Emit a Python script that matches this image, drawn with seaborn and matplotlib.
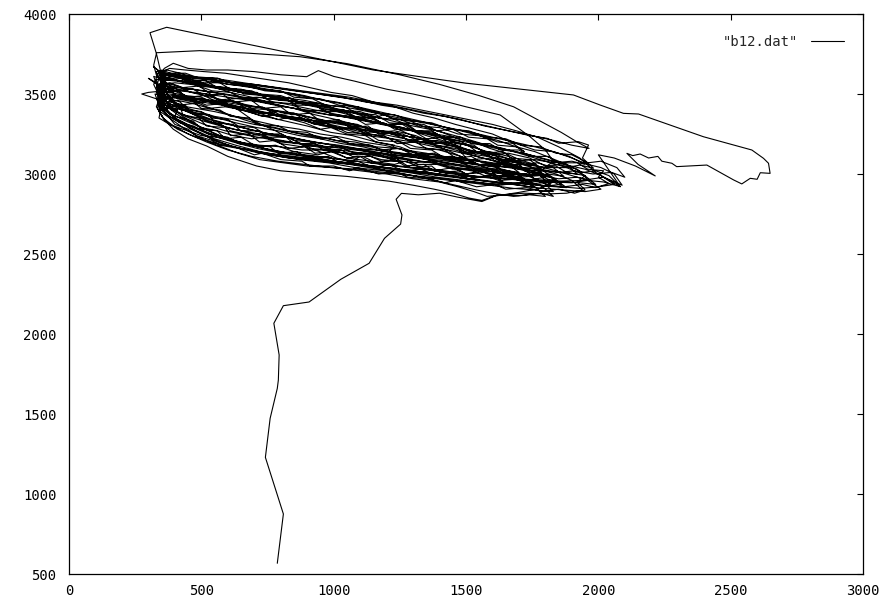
import matplotlib
matplotlib.use("Agg")
import matplotlib.pyplot as plt
import numpy as np
import pandas as pd
import seaborn as sns

# Trajectory from b12.dat, split into its phases.
# Initial climb from the bottom of the plane into the attractor.
tail = [(787, 567), (810, 875), (742, 1229), (760, 1473), (787, 1660), (791, 1712),
        (794, 1869), (774, 2067), (810, 2177), (907, 2200), (1027, 2342), (1134, 2442),
        (1192, 2598), (1253, 2687), (1258, 2744), (1236, 2842), (1256, 2879)]

# First group of cycles.
early_cycles = [
    (1320, 2870), (1400, 2880), (1470, 2855), (1560, 2828), (1610, 2862), (1700, 2885), (1780, 2910), (1830, 2950),
    (1770, 3000), (1700, 3030), (1620, 3070), (1560, 3050), (1480, 3110), (1400, 3150), (1310, 3170), (1220, 3220),
    (1130, 3240), (1040, 3280), (960, 3300), (880, 3340), (790, 3360), (700, 3400), (610, 3430), (530, 3460),
    (450, 3480), (380, 3500), (345, 3490),
    (355, 3430), (400, 3350), (460, 3280), (540, 3220), (620, 3170), (720, 3130), (830, 3100), (950, 3080),
    (1060, 3060), (1170, 3030), (1280, 3010), (1390, 2980), (1490, 2960), (1590, 2940), (1680, 2935), (1760, 2915),
    (1710, 2975), (1640, 3010), (1580, 3000), (1500, 3060), (1420, 3100), (1330, 3120), (1250, 3170), (1160, 3200),
    (1070, 3240), (990, 3260), (900, 3300), (820, 3330), (740, 3360), (650, 3400), (560, 3440), (480, 3470),
    (410, 3500), (355, 3520),
    (360, 3520), (300, 3510), (275, 3500), (330, 3470), (350, 3420), (410, 3400), (400, 3360), (470, 3330),
    (500, 3280), (560, 3270), (590, 3220), (650, 3230), (700, 3180), (760, 3170), (790, 3130), (860, 3140),
    (900, 3100), (980, 3110), (1020, 3070), (1090, 3080), (1150, 3040), (1210, 3060), (1260, 3020), (1330, 3030),
    (1390, 2990), (1450, 3010), (1510, 2970), (1580, 2985), (1640, 2950),
    (1600, 3010), (1630, 3050), (1560, 3070), (1520, 3110), (1460, 3100), (1420, 3150), (1350, 3160), (1310, 3200),
    (1240, 3190), (1190, 3240), (1120, 3250), (1080, 3290), (1010, 3280), (960, 3330), (890, 3340), (850, 3380),
    (780, 3370), (730, 3420), (660, 3420), (620, 3460), (560, 3450), (510, 3490), (450, 3480), (410, 3520),
    (370, 3530),
    (335, 3470), (365, 3400), (415, 3330), (480, 3270), (560, 3200), (650, 3160), (760, 3120), (870, 3090),
    (980, 3070), (1080, 3040), (1190, 3020), (1300, 2990), (1410, 2970), (1520, 2950), (1630, 2930), (1720, 2950),
    (1800, 2925), (1880, 2915),
    (1830, 2975), (1760, 3010), (1690, 3050), (1610, 3080), (1540, 3110), (1460, 3150), (1370, 3190), (1290, 3210),
    (1200, 3260), (1110, 3280), (1020, 3320), (940, 3340), (850, 3380), (770, 3400), (680, 3430), (590, 3460),
    (510, 3490), (440, 3520), (375, 3540),
    (340, 3560), (300, 3598), (350, 3540), (370, 3470), (350, 3430), (420, 3420), (430, 3370), (490, 3350),
    (520, 3300), (590, 3290), (610, 3240), (680, 3250), (720, 3200), (780, 3210), (830, 3160), (890, 3170),
    (930, 3130), (1000, 3140), (1050, 3100), (1110, 3110), (1160, 3070), (1230, 3090), (1270, 3050), (1340, 3060),
    (1380, 3020), (1450, 3040), (1500, 3000), (1570, 3010), (1620, 2980), (1690, 3000), (1730, 2960), (1800, 2980),
    (1770, 3040), (1720, 3030), (1680, 3090), (1610, 3080), (1570, 3140), (1500, 3130), (1460, 3180), (1390, 3170),
    (1350, 3220), (1280, 3210), (1240, 3260), (1170, 3250), (1130, 3300), (1060, 3290), (1020, 3340), (950, 3330),
    (910, 3380), (840, 3370), (800, 3420), (730, 3410), (690, 3460), (620, 3450), (580, 3500), (510, 3490),
    (470, 3530), (400, 3520), (360, 3560),
    (345, 3500), (375, 3430), (430, 3360), (500, 3290), (580, 3230), (670, 3190), (760, 3150), (870, 3120),
    (980, 3100), (1070, 3080), (1100, 3110), (1140, 3070), (1250, 3050), (1350, 3030), (1450, 3000), (1550, 2985),
    (1650, 2975), (1750, 2965), (1840, 2955), (1930, 2945), (1990, 2935),
    (1945, 2995), (1880, 3040), (1800, 3080), (1720, 3120), (1640, 3160), (1560, 3190), (1480, 3230), (1390, 3270),
    (1300, 3300), (1200, 3340), (1110, 3370), (1020, 3400), (920, 3430), (830, 3460), (740, 3490), (650, 3510),
    (560, 3540), (480, 3560), (410, 3580), (350, 3590),
    (380, 3470), (420, 3410), (455, 3385), (520, 3330), (575, 3310), (610, 3270), (690, 3240), (720, 3250),
    (800, 3200), (870, 3190), (905, 3160), (990, 3150), (1060, 3120), (1100, 3130), (1180, 3090), (1250, 3080),
    (1210, 3140), (1230, 3180), (1160, 3200), (1120, 3240), (1050, 3250), (990, 3290), (950, 3280), (890, 3320),
    (820, 3350), (790, 3340), (720, 3380), (650, 3400), (620, 3430), (540, 3450), (500, 3480), (440, 3490),
    (395, 3520), (350, 3510),
    (330, 3420), (360, 3340), (394, 3280), (450, 3220), (520, 3175), (600, 3110), (709, 3050), (800, 3020),
    (885, 3008), (970, 2995), (1050, 2985), (1130, 2970), (1210, 2955), (1300, 2930), (1380, 2905), (1450, 2880),
    (1510, 2850), (1560, 2835), (1620, 2870), (1700, 2865), (1780, 2880), (1830, 2860),
    (1790, 2920), (1730, 2960), (1660, 2990), (1590, 3020), (1510, 3040), (1430, 3070), (1350, 3090), (1270, 3120),
    (1190, 3140), (1110, 3170), (1030, 3190), (950, 3220), (870, 3240), (790, 3270), (710, 3290), (630, 3320),
    (560, 3350), (490, 3380), (430, 3400), (370, 3420),
]

# Second group, including the jagged and the high passes.
middle_cycles = [
    (350, 3400), (380, 3360), (420, 3320), (470, 3300), (530, 3250), (600, 3230), (640, 3190), (720, 3170),
    (780, 3180), (850, 3140), (940, 3120), (990, 3140), (1050, 3100), (1140, 3080), (1230, 3060), (1270, 3080),
    (1330, 3040), (1420, 3020), (1500, 3000), (1560, 3020), (1620, 2990), (1700, 2980), (1780, 2990), (1850, 2970),
    (1920, 2980), (1960, 2965),
    (1920, 3030), (1850, 3060), (1800, 3050), (1740, 3100), (1660, 3130), (1600, 3120), (1530, 3170), (1450, 3200),
    (1380, 3190), (1310, 3240), (1230, 3270), (1160, 3260), (1090, 3310), (1010, 3330), (940, 3320), (870, 3370),
    (790, 3390), (720, 3380), (650, 3420), (580, 3440), (520, 3430), (460, 3470), (400, 3480), (350, 3470),
    (335, 3450), (345, 3390), (380, 3350), (400, 3310), (450, 3280), (480, 3240), (540, 3210), (570, 3180),
    (640, 3160), (700, 3120), (730, 3130), (800, 3090), (880, 3080), (910, 3050), (1000, 3050), (1060, 3020),
    (1090, 3040), (1170, 3000), (1240, 3010), (1280, 2980), (1360, 2970), (1420, 2945), (1460, 2960), (1540, 2920),
    (1610, 2935), (1650, 2905), (1730, 2915), (1790, 2890), (1850, 2905), (1910, 2880), (1950, 2900),
    (1920, 2950), (1950, 2990), (1880, 3010), (1840, 3050), (1780, 3040), (1740, 3090), (1670, 3100), (1640, 3140),
    (1570, 3130), (1530, 3180), (1460, 3190), (1420, 3230), (1350, 3220), (1300, 3270), (1230, 3280), (1190, 3320),
    (1120, 3310), (1070, 3360), (1000, 3370), (960, 3400), (890, 3390), (840, 3440), (770, 3450), (730, 3480),
    (660, 3470), (610, 3510), (540, 3520), (490, 3550), (430, 3540), (380, 3570), (340, 3560),
    (330, 3510), (350, 3450), (390, 3400), (450, 3360), (530, 3320), (620, 3280), (720, 3250), (820, 3230),
    (920, 3200), (1020, 3180), (1120, 3150), (1220, 3120), (1320, 3100), (1420, 3070), (1520, 3050), (1620, 3030),
    (1700, 3010),
    (1650, 3070), (1590, 3110), (1510, 3150), (1430, 3200), (1350, 3240), (1260, 3290), (1170, 3320), (1080, 3360),
    (990, 3400), (900, 3430), (810, 3470), (720, 3500), (630, 3530), (540, 3550), (460, 3570), (390, 3590),
    (340, 3600),
    (320, 3610), (335, 3540), (390, 3520), (410, 3470), (470, 3450), (500, 3410), (570, 3400), (610, 3360),
    (680, 3350), (710, 3310), (790, 3300), (830, 3270), (900, 3260), (950, 3220), (1010, 3230), (1060, 3190),
    (1140, 3180), (1180, 3150), (1250, 3160), (1300, 3120), (1380, 3130), (1420, 3090), (1500, 3100),
    (1470, 3160), (1490, 3200), (1420, 3220), (1380, 3260), (1310, 3270), (1270, 3310), (1190, 3310), (1150, 3350),
    (1080, 3360), (1040, 3400), (960, 3400), (920, 3440), (850, 3440), (800, 3480), (730, 3490), (690, 3520),
    (610, 3530), (570, 3570), (490, 3570), (450, 3600), (380, 3610), (340, 3640),
    (320, 3560), (340, 3490), (370, 3420), (420, 3360), (490, 3300), (570, 3240), (660, 3190), (760, 3150),
    (860, 3120), (970, 3090), (1080, 3060), (1190, 3040), (1300, 3010), (1400, 2990), (1500, 2970), (1600, 2950),
    (1690, 2940), (1780, 2930), (1860, 2920), (1930, 2910), (2000, 2920), (2060, 2935),
    (2010, 2990), (1950, 3030), (1870, 3060), (1800, 3090), (1720, 3130), (1640, 3150), (1560, 3180), (1470, 3210),
    (1390, 3240), (1300, 3270), (1210, 3300), (1120, 3330), (1030, 3360), (940, 3380), (850, 3410), (760, 3440),
    (670, 3470), (580, 3500), (500, 3520), (430, 3540), (370, 3550),
    (330, 3620), (320, 3680), (331, 3758), (495, 3771), (680, 3755), (873, 3733), (1050, 3690), (1250, 3620),
    (1400, 3560), (1550, 3490), (1680, 3420), (1770, 3340), (1860, 3260), (1920, 3200), (1965, 3160),
    (1900, 3180), (1830, 3210), (1750, 3240), (1660, 3270), (1570, 3300), (1480, 3340), (1390, 3370), (1300, 3400),
    (1210, 3430), (1120, 3450), (1030, 3480), (940, 3500), (850, 3520), (760, 3540), (670, 3560), (580, 3580),
    (500, 3600), (420, 3620), (360, 3630),
    (360, 3620), (319, 3671), (370, 3600), (350, 3550), (400, 3500), (380, 3450), (440, 3430), (460, 3380),
    (530, 3370), (550, 3320), (620, 3310), (650, 3270), (720, 3270), (750, 3230), (820, 3230), (850, 3190),
    (930, 3190), (960, 3150), (1030, 3150), (1070, 3110), (1140, 3110), (1180, 3080), (1250, 3080), (1290, 3040),
    (1370, 3050), (1400, 3010), (1480, 3020), (1520, 2980), (1600, 2990), (1630, 2960), (1710, 2970), (1750, 2940),
    (1830, 2950), (1870, 2920), (1940, 2935), (1990, 2915), (2040, 2940),
    (2000, 2980), (2020, 3020), (1960, 3030), (1920, 3070), (1850, 3070), (1810, 3110), (1740, 3110), (1700, 3150),
    (1630, 3150), (1590, 3190), (1520, 3190), (1480, 3230), (1410, 3230), (1370, 3270), (1300, 3270), (1260, 3310),
    (1190, 3310), (1150, 3350), (1080, 3350), (1040, 3390), (970, 3390), (930, 3430), (860, 3430), (820, 3470),
    (750, 3470), (710, 3510), (640, 3510), (600, 3540), (530, 3550), (490, 3580), (420, 3580), (380, 3600),
    (340, 3560), (335, 3480), (345, 3410), (380, 3350), (430, 3290), (490, 3230), (560, 3180), (640, 3130),
    (720, 3090), (810, 3070), (900, 3050), (1000, 3040), (1100, 3020), (1200, 3000), (1300, 2970), (1400, 2950),
    (1470, 2920), (1530, 2890), (1580, 2860), (1640, 2870), (1720, 2880), (1800, 2875), (1880, 2880), (1940, 2900),
    (1900, 2960), (1840, 3000), (1770, 3030), (1690, 3070), (1620, 3100), (1540, 3120), (1460, 3160), (1380, 3180),
    (1300, 3210), (1210, 3240), (1130, 3270), (1040, 3290), (960, 3320), (870, 3350), (790, 3370), (700, 3400),
    (620, 3420), (540, 3450), (460, 3470), (390, 3490), (345, 3480),
]

# The single large excursion out to the right.
excursion = [
    (370, 3560), (345, 3650), (330, 3754), (306, 3883), (369, 3917), (620, 3830), (873, 3744), (1150, 3650),
    (1415, 3587), (1503, 3567), (1906, 3494), (2007, 3431), (2095, 3379), (2152, 3375), (2397, 3233), (2580, 3150),
    (2624, 3098), (2643, 3067), (2649, 3004), (2612, 3008), (2600, 2967), (2574, 2973), (2542, 2938), (2511, 2963),
    (2410, 3056), (2296, 3046), (2278, 3067), (2240, 3080), (2225, 3110), (2190, 3100), (2158, 3125), (2130, 3115),
    (2108, 3129), (2150, 3060), (2215, 2988), (2140, 3050), (2060, 3100), (2000, 3120), (2083, 2921), (1990, 3010),
    (1930, 3100), (1850, 3170), (1770, 3230), (1690, 3270), (1600, 3310), (1510, 3340), (1420, 3370), (1330, 3400),
    (1240, 3430), (1150, 3450), (1060, 3480), (970, 3500), (880, 3520), (790, 3540), (700, 3560), (620, 3580),
    (540, 3600), (460, 3610), (390, 3620), (350, 3610),
]

# Third group of cycles.
late_cycles = [
    (345, 3600), (360, 3520), (400, 3450), (460, 3390), (540, 3340), (630, 3300), (730, 3260), (830, 3230),
    (930, 3200), (1030, 3170), (1130, 3140), (1230, 3110), (1330, 3080), (1430, 3060), (1530, 3040), (1630, 3020),
    (1720, 3000), (1800, 2990),
    (1740, 3050), (1670, 3090), (1600, 3130), (1520, 3170), (1440, 3210), (1350, 3250), (1260, 3290), (1170, 3320),
    (1080, 3350), (990, 3380), (900, 3410), (810, 3440), (720, 3460), (630, 3490), (550, 3510), (470, 3530),
    (400, 3540), (350, 3530),
    (350, 3640), (420, 3600), (500, 3540), (560, 3470), (640, 3400), (700, 3330), (780, 3270), (850, 3210),
    (930, 3150), (1010, 3100), (1100, 3060), (1200, 3020), (1300, 2990), (1380, 2960), (1460, 2930), (1540, 2900),
    (1600, 2880), (1680, 2860), (1740, 2870), (1800, 2860),
    (1760, 2920), (1700, 2960), (1640, 3000), (1560, 3050), (1480, 3110), (1400, 3170), (1310, 3230), (1230, 3290),
    (1150, 3340), (1060, 3390), (980, 3420), (890, 3450), (800, 3460), (710, 3480), (620, 3470), (540, 3460),
    (470, 3440), (410, 3430), (360, 3400),
    (340, 3460), (360, 3400), (400, 3350), (460, 3300), (540, 3250), (620, 3210), (710, 3170), (800, 3140),
    (890, 3120), (990, 3100), (1090, 3080), (1180, 3060), (1280, 3040), (1380, 3020), (1470, 3000), (1560, 2980),
    (1650, 2970), (1740, 2955), (1830, 2950), (1900, 2945), (1960, 2960), (2020, 2950), (2083, 2921),
    (2040, 2990), (1990, 3020), (1940, 3010), (1880, 3060), (1810, 3090), (1740, 3120), (1660, 3150), (1580, 3180),
    (1500, 3210), (1420, 3240), (1340, 3260), (1250, 3290), (1160, 3320), (1070, 3350), (980, 3370), (900, 3400),
    (810, 3420), (720, 3450), (640, 3470), (560, 3490), (480, 3510), (410, 3520), (360, 3510),
    (340, 3350), (380, 3310), (430, 3280), (500, 3240), (560, 3230), (640, 3200), (720, 3180), (800, 3170),
    (880, 3150), (960, 3150), (1040, 3130), (1120, 3130), (1200, 3110), (1280, 3120), (1360, 3100), (1440, 3110),
    (1520, 3090), (1600, 3100), (1680, 3080), (1760, 3090), (1830, 3070), (1900, 3080), (1950, 3060),
    (1890, 3110), (1830, 3140), (1760, 3150), (1690, 3190), (1620, 3200), (1550, 3240), (1470, 3250), (1400, 3290),
    (1320, 3300), (1250, 3340), (1170, 3350), (1100, 3390), (1020, 3400), (950, 3440), (870, 3450), (800, 3490),
    (720, 3500), (650, 3530), (570, 3540), (500, 3570), (430, 3580), (370, 3600), (330, 3590),
    (350, 3430), (380, 3380), (430, 3340), (500, 3290), (560, 3270), (620, 3240), (690, 3220), (740, 3230),
    (800, 3190), (880, 3170), (950, 3180), (1010, 3140), (1090, 3120), (1160, 3130), (1220, 3090), (1300, 3070),
    (1370, 3080), (1440, 3040), (1520, 3020), (1590, 3030), (1660, 3000), (1740, 2990), (1810, 3000), (1870, 2985),
    (1830, 3040), (1770, 3070), (1720, 3060), (1660, 3110), (1590, 3140), (1530, 3130), (1460, 3180), (1390, 3210),
    (1330, 3200), (1260, 3250), (1190, 3270), (1130, 3260), (1060, 3300), (990, 3320), (930, 3310), (860, 3350),
    (790, 3370), (730, 3360), (660, 3400), (590, 3420), (530, 3410), (470, 3440), (410, 3460), (360, 3450),
    (345, 3480), (400, 3420), (460, 3380), (530, 3340), (600, 3310), (680, 3280), (760, 3250), (840, 3230),
    (920, 3200), (1000, 3180), (1080, 3160), (1160, 3150), (1240, 3130), (1320, 3120), (1400, 3100), (1480, 3090),
    (1560, 3080), (1640, 3060), (1720, 3060), (1800, 3040), (1880, 3040), (1931, 3056), (1982, 3036), (1940, 3100),
    (1963, 3181), (1925, 3202), (1850, 3192), (1806, 3223), (1740, 3240), (1660, 3270), (1580, 3300), (1500, 3330),
    (1420, 3360), (1340, 3380), (1260, 3410), (1180, 3430), (1100, 3460), (1020, 3480), (940, 3500), (860, 3520),
    (780, 3540), (700, 3560), (620, 3570), (540, 3590), (460, 3600), (400, 3610), (350, 3600),
    (335, 3410), (355, 3350), (395, 3300), (450, 3250), (520, 3200), (600, 3150), (690, 3110), (790, 3080),
    (890, 3060), (990, 3040), (1090, 3030), (1190, 3010), (1290, 2990), (1390, 2970), (1490, 2950), (1590, 2930),
    (1680, 2910), (1760, 2900), (1830, 2890),
    (1790, 2950), (1730, 2990), (1660, 3020), (1590, 3050), (1510, 3070), (1430, 3100), (1350, 3130), (1270, 3150),
    (1190, 3180), (1110, 3200), (1030, 3230), (950, 3250), (870, 3280), (790, 3300), (710, 3330), (630, 3360),
    (550, 3390), (480, 3410), (410, 3430), (360, 3440),
    (340, 3390), (365, 3330), (410, 3280), (480, 3230), (560, 3190), (650, 3160), (750, 3130), (850, 3110),
    (950, 3090), (1050, 3070), (1150, 3050), (1250, 3030), (1350, 3010), (1450, 2990), (1550, 2980), (1650, 2970),
    (1750, 2960), (1850, 2955), (1940, 2960), (2020, 2980), (2090, 2930),
    (2060, 3000), (2010, 3040), (1960, 3060), (1900, 3100), (1830, 3140), (1760, 3170), (1680, 3200), (1600, 3230),
    (1520, 3260), (1430, 3290), (1340, 3320), (1250, 3350), (1160, 3380), (1070, 3410), (980, 3430), (890, 3460),
    (800, 3480), (710, 3500), (620, 3520), (540, 3540), (460, 3560), (400, 3570), (350, 3560),
    (345, 3450), (370, 3390), (410, 3340), (470, 3290), (540, 3240), (620, 3200), (710, 3160), (800, 3130),
    (900, 3110), (1000, 3080), (1100, 3060), (1200, 3040), (1300, 3020), (1400, 3000), (1500, 2970), (1600, 2950),
    (1700, 2930), (1790, 2910), (1870, 2900), (1950, 2890), (2010, 2905),
    (1960, 2960), (1900, 2990), (1840, 3020), (1770, 3050), (1700, 3080), (1620, 3110), (1540, 3140), (1460, 3170),
    (1380, 3200), (1300, 3230), (1220, 3250), (1140, 3280), (1060, 3310), (980, 3330), (900, 3360), (820, 3380),
    (740, 3410), (660, 3430), (580, 3450), (500, 3470), (430, 3480), (370, 3480),
    (325, 3500), (340, 3430), (370, 3370), (420, 3320), (480, 3270), (550, 3220), (630, 3180), (720, 3140),
    (820, 3110), (920, 3090), (1020, 3070), (1120, 3050), (1220, 3030), (1320, 3010), (1420, 2990), (1520, 2970),
    (1620, 2950), (1720, 2940), (1800, 2925), (1860, 2935),
    (1810, 2990), (1750, 3020), (1680, 3050), (1610, 3080), (1540, 3110), (1460, 3140), (1380, 3170), (1300, 3200),
    (1220, 3220), (1140, 3250), (1060, 3280), (980, 3300), (900, 3330), (820, 3350), (740, 3380), (660, 3400),
    (580, 3430), (500, 3450), (430, 3470), (365, 3480),
    (360, 3470), (390, 3410), (440, 3360), (510, 3310), (590, 3270), (680, 3240), (780, 3210), (880, 3190),
    (980, 3170), (1080, 3150), (1180, 3130), (1280, 3110), (1380, 3090), (1480, 3070), (1580, 3050), (1700, 3040),
    (1790, 3030), (1830, 3080), (1800, 3150), (1742, 3233), (1629, 3369), (1500, 3420), (1402, 3462), (1300, 3500),
    (1200, 3530), (1080, 3580), (1000, 3610), (942, 3646), (898, 3608), (800, 3620), (700, 3640), (600, 3650),
    (520, 3650), (450, 3660), (394, 3692), (360, 3660), (340, 3610),
    (355, 3540), (380, 3470), (430, 3410), (500, 3350), (580, 3300), (670, 3260), (770, 3220), (870, 3190),
    (970, 3160), (1070, 3140), (1170, 3110), (1270, 3090), (1370, 3070), (1470, 3040), (1570, 3020), (1660, 3000),
    (1750, 2990),
    (1700, 3050), (1640, 3080), (1570, 3120), (1500, 3150), (1420, 3190), (1340, 3220), (1260, 3240),
]

# Final cycles, which ride along the upper half of the band.
upper_cycles = [
    (1180, 3270), (1100, 3300), (1010, 3340), (930, 3370), (850, 3410), (770, 3440), (690, 3480), (610, 3510),
    (530, 3550), (460, 3580), (400, 3620), (350, 3650),
    (365, 3600), (420, 3580), (470, 3560), (510, 3590), (560, 3540), (630, 3530), (660, 3500), (740, 3490),
    (800, 3460), (830, 3480), (900, 3430), (980, 3420), (1020, 3390), (1100, 3380), (1150, 3350), (1190, 3370),
    (1260, 3320), (1340, 3310), (1390, 3270), (1450, 3280), (1510, 3230), (1580, 3220), (1620, 3180), (1690, 3170),
    (1720, 3140),
    (1670, 3200), (1600, 3250), (1530, 3280), (1460, 3310), (1380, 3350), (1300, 3380), (1230, 3420), (1150, 3450),
    (1070, 3490), (990, 3510), (910, 3540), (830, 3570), (750, 3590), (670, 3610), (590, 3630), (510, 3640),
    (440, 3650), (380, 3660), (340, 3630),
    (360, 3570), (410, 3550), (460, 3510), (520, 3500), (570, 3460), (640, 3450), (690, 3410), (760, 3400),
    (810, 3360), (880, 3350), (930, 3310), (1000, 3300), (1050, 3260), (1130, 3250), (1170, 3210), (1250, 3200),
    (1290, 3160), (1370, 3150), (1410, 3110), (1490, 3100), (1530, 3060), (1610, 3050), (1650, 3010), (1730, 3000),
    (1770, 2960), (1840, 2965),
    (1800, 3010), (1760, 3060), (1700, 3090), (1650, 3130), (1590, 3160), (1530, 3200), (1470, 3220), (1410, 3260),
    (1350, 3290), (1290, 3330), (1220, 3350), (1160, 3390), (1090, 3410), (1030, 3440), (960, 3460), (890, 3490),
    (820, 3510), (750, 3530), (680, 3550), (610, 3570), (540, 3590), (480, 3600), (420, 3630), (370, 3650),
    (330, 3640),
    (345, 3580), (400, 3540), (450, 3470), (520, 3420), (590, 3380), (660, 3340), (740, 3300), (820, 3270),
    (900, 3240), (980, 3220), (1060, 3190), (1140, 3170), (1220, 3140), (1300, 3120), (1380, 3100), (1460, 3080),
    (1540, 3060), (1620, 3050), (1700, 3030), (1780, 3020), (1860, 3010), (1920, 3000),
    (1880, 3060), (1820, 3100), (1760, 3140), (1690, 3170), (1620, 3210), (1550, 3240), (1480, 3270), (1400, 3300),
    (1330, 3330), (1250, 3360), (1170, 3390), (1090, 3420), (1010, 3450), (930, 3470), (850, 3500), (770, 3520),
    (690, 3540), (610, 3560), (530, 3580), (460, 3590), (400, 3600), (355, 3580),
    (340, 3520), (380, 3470), (420, 3450), (450, 3400), (500, 3390), (540, 3350), (600, 3340), (640, 3300),
    (700, 3290), (740, 3250), (800, 3250), (850, 3210), (910, 3200), (960, 3170), (1020, 3170), (1080, 3130),
    (1140, 3130), (1200, 3100), (1260, 3100), (1320, 3060), (1390, 3060), (1450, 3030), (1510, 3030), (1570, 2990),
    (1640, 2990), (1700, 2960), (1760, 2960), (1820, 2930),
    (1780, 2990), (1720, 3020), (1700, 3070), (1640, 3080), (1600, 3130), (1540, 3140), (1500, 3190), (1430, 3200),
    (1390, 3250), (1320, 3260), (1280, 3310), (1210, 3320), (1160, 3370), (1090, 3380), (1040, 3420), (970, 3430),
    (920, 3470), (850, 3480), (800, 3520), (730, 3530), (680, 3560), (610, 3570), (560, 3600), (490, 3600),
    (440, 3630), (380, 3630), (340, 3600),
    (330, 3540), (360, 3480), (410, 3430), (470, 3400), (550, 3360), (620, 3340), (700, 3310), (780, 3290),
    (850, 3260), (930, 3240), (1010, 3210), (1080, 3200), (1160, 3170), (1240, 3160), (1310, 3130), (1390, 3120),
    (1470, 3090), (1550, 3080), (1620, 3060), (1700, 3040), (1780, 3030), (1850, 3010), (1910, 3020), (1980, 3000),
    (2050, 3010), (2100, 2980),
    (2070, 3040), (2010, 3080), (1960, 3070), (1900, 3120), (1840, 3130), (1780, 3170), (1710, 3180), (1650, 3220),
    (1580, 3230), (1510, 3270), (1440, 3280), (1370, 3320), (1300, 3330), (1230, 3370), (1160, 3380), (1090, 3420),
    (1020, 3430), (950, 3470), (880, 3480), (810, 3510), (740, 3520), (670, 3550), (600, 3560), (530, 3590),
    (470, 3600), (410, 3620), (360, 3620),
]

segments = [tail, early_cycles, middle_cycles, excursion, late_cycles, upper_cycles]
points = [p for seg in segments for p in seg]
df = pd.DataFrame(points, columns=["x", "y"])
df["step"] = np.arange(len(df))

x_ticks = [0, 500, 1000, 1500, 2000, 2500, 3000]
y_ticks = [500, 1000, 1500, 2000, 2500, 3000, 3500, 4000]
series_label = '"b12.dat"'

sns.set_style("white")
plt.rcParams["font.family"] = ["DejaVu Sans Mono", "DejaVu Sans"]

fig = plt.figure(figsize=(8.9, 6.06), dpi=100)
ax = fig.add_axes([69 / 890, 32 / 606, 794 / 890, 560 / 606])

sns.lineplot(data=df, x="x", y="y", sort=False, estimator=None, color="black",
             linewidth=0.8, label=series_label, ax=ax)

ax.set_xlim(0, 3000)
ax.set_ylim(500, 4000)
ax.set_xticks(x_ticks)
ax.set_yticks(y_ticks)
ax.set_xlabel("")
ax.set_ylabel("")
ax.tick_params(direction="in", length=4.5, width=0.8, top=True, right=True,
               labelsize=10, colors="black", pad=7)
ax.tick_params(axis="y", pad=9)
for s in ax.spines.values():
    s.set_visible(True)
    s.set_color("black")
    s.set_linewidth(0.9)

leg = ax.legend(loc="center right", bbox_to_anchor=(0.976, 0.9505), frameon=False,
                markerfirst=False, handlelength=2.4, handletextpad=0.9,
                borderpad=0, borderaxespad=0, fontsize=10)
for line in leg.get_lines():
    line.set_linewidth(0.8)

fig.savefig("out.png", dpi=100)
